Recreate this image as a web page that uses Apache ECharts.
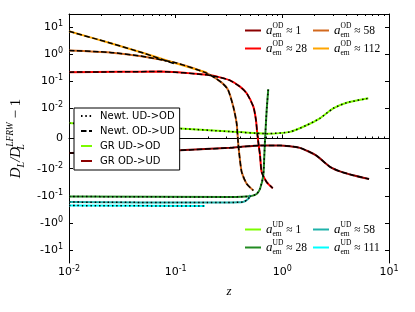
<!DOCTYPE html>
<html><head><meta charset="utf-8">
<script src="https://cdn.jsdelivr.net/npm/echarts@6/dist/echarts.min.js"></script>
<style>html,body{margin:0;padding:0;background:#fff}#c{width:415px;height:312px}</style>
</head><body><div id="c"></div>
<script>
// ---- data (z, D_L/D_L^LFRW - 1) ----
const od1 = [[0.01,-0.0048],[0.03,-0.0046],[0.11,-0.0039],[0.323,-0.0031],[0.401,-0.0028],[0.618,-0.0023],[0.95,-0.0023],[1.46,-0.0031],[2.07,-0.0056],[2.8,-0.0094],[3.47,-0.0126],[4.6,-0.0174],[6.5,-0.0241]];
const od28 = [[0.01,0.215],[0.03,0.222],[0.0713,0.227],[0.195,0.171],[0.26,0.138],[0.323,0.107],[0.401,0.063],[0.463,0.036],[0.535,0.0115],[0.566,0.0061],[0.582,0.0017],[0.596,-0.0014],[0.618,-0.0056],[0.64,-0.0134],[0.713,-0.0313],[0.813,-0.0524]];
const od58 = [[0.01,1.36],[0.0242,1.15],[0.0495,0.815],[0.102,0.464],[0.195,0.198],[0.272,0.0865],[0.31,0.0476],[0.347,0.0115],[0.373,0.005],[0.386,-0.0017],[0.396,-0.0056],[0.416,-0.0134],[0.463,-0.036],[0.535,-0.064]];
const od112 = [[0.01,6.87],[0.0242,2.56],[0.0498,1.09],[0.0985,0.464],[0.195,0.208]];
const newtOd112 = [[0.01,6.87],[0.0242,2.56],[0.0498,1.09],[0.1,0.42]];
const ud1 = [[0.01,0.0051],[0.03,0.0041],[0.11,0.0033],[0.323,0.0023],[0.713,0.0016],[1.18,0.0022],[1.69,0.0044],[2.25,0.0067],[3.0,0.010],[4.01,0.0161],[6.4,0.0235]];
const ud28 = [[0.01,-0.106],[0.323,-0.111],[0.498,-0.1035],[0.575,-0.0853],[0.618,-0.0551],[0.663,-0.0177],[0.678,-0.0056],[0.688,-0.0006],[0.713,0.0094],[0.738,0.0506]];
const ud58 = [[0.01,-0.17],[0.2,-0.178],[0.428,-0.17],[0.48,-0.129],[0.503,-0.0934]];
const ud111 = [[0.01,-0.229],[0.188,-0.239]];
const xMajor = [0.01, 0.1, 1, 10];
const xMinor = [0.02,0.03,0.04,0.05,0.06,0.07,0.08,0.09,0.2,0.3,0.4,0.5,0.6,0.7,0.8,0.9,2,3,4,5,6,7,8,9];
const yTicks = [-10, -1, -0.1, -0.01, 0, 0.01, 0.1, 1, 10];

// symlog transform (linthresh 0.01, linscale 1)
const LT = 0.01, LS = 1 / (1 - 0.1);
const T = v => { const a = Math.abs(v); return a <= LT ? v / LT * LS : Math.sign(v) * (LS + Math.log10(a / LT)); };
const mk = arr => arr.map(p => [p[0], T(p[1])]);
const YMAX = LS + 3 + 0.475;

const supRich = {
  b: {fontFamily: 'DejaVu Sans', fontSize: 11, color: '#000', lineHeight: 14},
  s: {fontFamily: 'DejaVu Sans', fontSize: 8, color: '#000', verticalAlign: 'top', lineHeight: 8}
};
const serif = 'Liberation Serif';
const legRich = {
  a: {fontFamily: serif, fontStyle: 'italic', fontSize: 13, lineHeight: 17, color: '#000'},
  sub: {fontFamily: serif, fontSize: 7.5, verticalAlign: 'bottom', lineHeight: 8, width: 0, color: '#000'},
  sup: {fontFamily: serif, fontSize: 7.5, verticalAlign: 'top', lineHeight: 8, color: '#000'},
  t: {fontFamily: serif, fontSize: 11.5, lineHeight: 17, color: '#000'}
};
const legText = {OD1: ['OD','1'], OD28: ['OD','28'], OD58: ['OD','58'], OD112: ['OD','112'],
  UD1: ['UD','1'], UD28: ['UD','28'], UD58: ['UD','58'], UD111: ['UD','111']};
const legFmt = n => '{a|a}{sub|em}{sup|' + legText[n][0] + '}{t| \u2248 ' + legText[n][1] + '}';

const line = (name, color, data, w, type, z) => ({
  type: 'line', name, data: mk(data), xAxisIndex: 0, yAxisIndex: 0, symbol: 'none', smooth: 0.2,
  lineStyle: {color, width: w, type: type || 'solid'}, itemStyle: {color}, z: z || 2, silent: true
});
const DASH = [5.5, 2.5], DOT = [1.5, 2.8];

const series = [
  line('OD1', '#8b0000', od1, 2), line('OD28', '#ff0000', od28, 2),
  line('OD58', '#d2691e', od58, 2), line('OD112', '#ffa500', od112, 2),
  line('UD1', '#7cfc00', ud1, 2), line('UD28', '#228b22', ud28, 2),
  line('UD58', '#20b2aa', ud58, 2), line('UD111', '#00ffff', ud111, 2),
  {type: 'line', name: 'GR UD->OD', data: [], symbol: 'none', lineStyle: {color: '#7cfc00', width: 2}, itemStyle: {color: '#7cfc00'}},
  {type: 'line', name: 'GR OD->UD', data: [], symbol: 'none', lineStyle: {color: '#8b0000', width: 2}, itemStyle: {color: '#8b0000'}},
  line('Newt. UD->OD', '#000', ud1, 1.5, DOT, 3), line('Newt. UD->OD', '#000', ud28, 1.5, DOT, 3),
  line('Newt. UD->OD', '#000', ud58, 1.5, DOT, 3), line('Newt. UD->OD', '#000', ud111, 1.5, DOT, 3),
  line('Newt. OD->UD', '#000', od1, 1.5, DASH, 3), line('Newt. OD->UD', '#000', od28, 1.5, DASH, 3),
  line('Newt. OD->UD', '#000', od58, 1.5, DASH, 3), line('Newt. OD->UD', '#000', newtOd112, 1.5, DASH, 3)
];

const xBase = {type: 'log', logBase: 10, min: 0.01, max: 10, splitLine: {show: false}, axisPointer: {show: false}};
const yBase = {type: 'value', min: -YMAX, max: YMAX, splitLine: {show: false}, axisLabel: {show: false}};
const blackLine = {show: true, lineStyle: {color: '#000', width: 1}};
const noSym = {opacity: 0, borderWidth: 0};

const sideLegend = (data, left, top) => ({
  data, orient: 'vertical', left, top, padding: 0, itemGap: 1, itemWidth: 16, itemHeight: 10,
  selectedMode: false, formatter: legFmt, textStyle: {rich: legRich}, itemStyle: noSym
});

const option = {
  animation: false,
  grid: {left: 69, right: 26, top: 14, bottom: 49, outerBoundsMode: 'none'},
  xAxis: [
    Object.assign({}, xBase, {position: 'bottom', axisLine: blackLine,
      axisTick: {inside: true, length: 4, customValues: xMajor, lineStyle: {color: '#000'}},
      axisLabel: {customValues: xMajor, margin: 2, formatter: v => '{b|10}{s|' + Math.round(Math.log10(v)) + '}', rich: supRich},
      name: 'z', nameLocation: 'middle', nameGap: 22,
      nameTextStyle: {fontFamily: serif, fontStyle: 'italic', fontSize: 13, color: '#000'}}),
    Object.assign({}, xBase, {position: 'bottom', offset: 0, axisLine: {show: false},
      axisTick: {inside: true, length: 2, customValues: xMinor, lineStyle: {color: '#000'}}, axisLabel: {show: false}}),
    Object.assign({}, xBase, {position: 'top', offset: 0, axisLine: blackLine,
      axisTick: {inside: true, length: 4, customValues: xMajor, lineStyle: {color: '#000'}}, axisLabel: {show: false}}),
    Object.assign({}, xBase, {position: 'top', offset: 0, axisLine: {show: false},
      axisTick: {inside: true, length: 2, customValues: xMinor, lineStyle: {color: '#000'}}, axisLabel: {show: false}})
  ],
  yAxis: [
    Object.assign({}, yBase, {position: 'left', axisLine: blackLine,
      axisTick: {inside: true, length: 4, customValues: yTicks.map(T), lineStyle: {color: '#000'}},
      axisLabel: {show: true, customValues: yTicks.map(T), margin: 6, formatter: t => {
        if (Math.abs(t) < 0.01) return '{b|0}';
        const e = Math.round(Math.abs(t) - LS) - 2;
        return '{b|' + (t < 0 ? '-' : '') + '10}{s|' + e + '}';
      }, rich: supRich},
      name: '{i|D}{sb|L}{i|/D}{sb0|L}{sp|LFRW}{u| \u2212 1}', nameLocation: 'middle', nameGap: 37, nameRotate: 90,
      nameTextStyle: {rich: {
        i: {fontFamily: serif, fontStyle: 'italic', fontSize: 15, lineHeight: 21, color: '#000'},
        sb: {fontFamily: serif, fontStyle: 'italic', fontSize: 10, verticalAlign: 'bottom', lineHeight: 11, color: '#000'},
        sb0: {fontFamily: serif, fontStyle: 'italic', fontSize: 10, verticalAlign: 'bottom', lineHeight: 11, width: 0, color: '#000'},
        sp: {fontFamily: serif, fontStyle: 'italic', fontSize: 9.5, verticalAlign: 'top', lineHeight: 10, color: '#000'},
        u: {fontFamily: serif, fontSize: 15, lineHeight: 21, color: '#000'}
      }}}),
    Object.assign({}, yBase, {position: 'right', axisLine: blackLine,
      axisTick: {inside: true, length: 4, customValues: yTicks.map(T), lineStyle: {color: '#000'}}})
  ],
  legend: [
    {data: ['Newt. UD->OD', 'Newt. OD->UD', 'GR UD->OD', 'GR OD->UD'], orient: 'vertical', left: 74, top: 108,
     padding: [2, 5, 3, 6], itemGap: 3, itemWidth: 11, itemHeight: 10, selectedMode: false,
     borderColor: '#000', borderWidth: 1, backgroundColor: '#fff', itemStyle: noSym,
     textStyle: {fontFamily: 'DejaVu Sans', fontSize: 10, color: '#000', lineHeight: 12, padding: [0, 0, 0, 3]}},
    sideLegend(['OD1', 'OD28'], 244, 22),
    sideLegend(['OD58', 'OD112'], 312, 22),
    sideLegend(['UD1', 'UD28'], 244, 221),
    sideLegend(['UD58', 'UD111'], 312, 221)
  ],
  series
};
const chart = echarts.init(document.getElementById('c'), null, {renderer: 'canvas'});
chart.setOption(option);
</script>
</body></html>
